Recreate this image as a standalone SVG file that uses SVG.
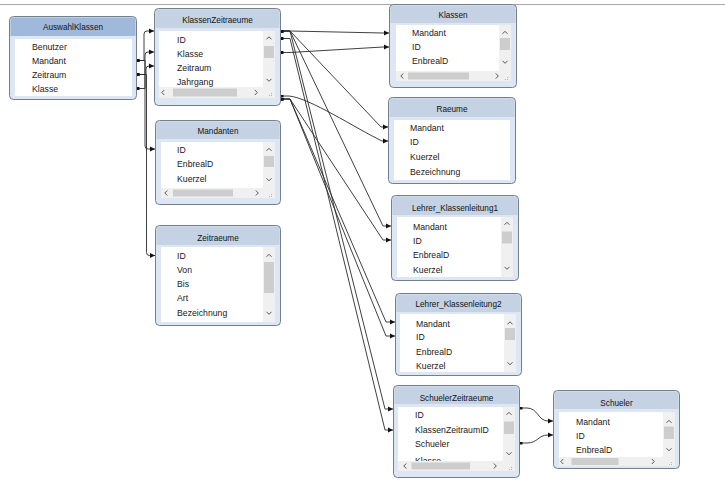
<svg xmlns="http://www.w3.org/2000/svg" xmlns:xlink="http://www.w3.org/1999/xlink" width="725" height="497" viewBox="0 0 725 497">
<style>
.box{fill:#dde7f3;stroke:#727f8d;stroke-width:1}
.hd{fill:#c4d2e3}
.hdsel{fill:#a0b9da}
.body{fill:#ffffff}
.title{font-family:"Liberation Sans",Arial,sans-serif;font-size:8.2px;fill:#111;text-anchor:middle}
.fld{font-family:"Liberation Sans",Arial,sans-serif;font-size:8.7px;fill:#1c1616}
.trk{fill:#f0f0f0}
.thumb{fill:#cdcdcd}
.chev{fill:none;stroke:#555;stroke-width:1}
.grip{fill:#b5b5b5}
.conn path{fill:none;stroke:#2a2a2a;stroke-width:0.9;marker-end:url(#arr);marker-start:url(#dot)}
</style>
<defs>
<marker id="arr" markerUnits="userSpaceOnUse" markerWidth="6" markerHeight="6" refX="5" refY="3" orient="auto"><path d="M0,0.6 L5,3 L0,5.4 Z" fill="#111"/></marker>
<marker id="dot" markerUnits="userSpaceOnUse" markerWidth="4" markerHeight="4" refX="0.5" refY="1.5" orient="auto"><rect x="0" y="0" width="3" height="3" fill="#111"/></marker>
<path id="up" class="chev" d="M-2.5,1.3 L0,-1.2 L2.5,1.3"/>
<path id="dn" class="chev" d="M-2.5,-1.2 L0,1.3 L2.5,-1.2"/>
<path id="lt" class="chev" d="M1.3,-2.5 L-1.2,0 L1.3,2.5"/>
<path id="rt" class="chev" d="M-1.2,-2.5 L1.3,0 L-1.2,2.5"/>
<g id="grip"><rect class="grip" x="2" y="0" width="1" height="1"/><rect class="grip" x="0" y="2" width="1" height="1"/><rect class="grip" x="2" y="2" width="1" height="1"/></g>
<clipPath id="szclip"><rect x="398" y="407" width="105" height="54"/></clipPath>
</defs>
<rect x="0" y="0" width="725" height="497" fill="#ffffff"/>
<line x1="0" y1="4.5" x2="725" y2="4.5" stroke="#a8a8a8" stroke-width="1"/>

<g id="AuswahlKlassen">
<rect class="box" x="9.5" y="16.5" width="127" height="83" rx="4"/>
<path class="hdsel" d="M10.5,36 V20.5 Q10.5,17.5 13.5,17.5 H132.5 Q135.5,17.5 135.5,20.5 V36 Z"/>
<rect class="body" x="15" y="39" width="117" height="57"/>
<text class="title" x="73" y="30">AuswahlKlassen</text>
<text class="fld" x="32" y="50">Benutzer</text>
<text class="fld" x="32" y="64">Mandant</text>
<text class="fld" x="32" y="78">Zeitraum</text>
<text class="fld" x="32" y="92">Klasse</text>
</g>

<g id="KlassenZeitraeume">
<rect class="box" x="154.5" y="8.5" width="126" height="97" rx="4"/>
<path class="hd" d="M155.5,28 V12.5 Q155.5,9.5 158.5,9.5 H276.5 Q279.5,9.5 279.5,12.5 V28 Z"/>
<rect class="body" x="159" y="31" width="116" height="67"/>
<text class="title" x="217.5" y="23">KlassenZeitraeume</text>
<text class="fld" x="177" y="42.5">ID</text>
<text class="fld" x="177" y="56.5">Klasse</text>
<text class="fld" x="177" y="70.5">Zeitraum</text>
<text class="fld" x="177" y="84.5">Jahrgang</text>
<rect class="trk" x="263" y="31" width="12" height="56"/>
<rect class="thumb" x="264" y="46" width="10" height="12"/>
<use xlink:href="#up" x="269" y="38"/>
<use xlink:href="#dn" x="269" y="80"/>
<rect class="trk" x="159" y="87" width="116" height="11"/>
<rect class="thumb" x="173" y="88.5" width="64" height="8"/>
<use xlink:href="#lt" x="163" y="92.5"/>
<use xlink:href="#rt" x="256" y="92.5"/>
<use xlink:href="#grip" x="269" y="93"/>
</g>

<g id="Mandanten">
<rect class="box" x="155.5" y="120.5" width="125" height="84" rx="4"/>
<path class="hd" d="M156.5,139 V124.5 Q156.5,121.5 159.5,121.5 H276.5 Q279.5,121.5 279.5,124.5 V139 Z"/>
<rect class="body" x="161" y="142" width="114" height="56"/>
<text class="title" x="218" y="133.5">Mandanten</text>
<text class="fld" x="177" y="152.5">ID</text>
<text class="fld" x="177" y="167">EnbrealD</text>
<text class="fld" x="177" y="181.5">Kuerzel</text>
<rect class="trk" x="263" y="142" width="12" height="46"/>
<rect class="thumb" x="264" y="156" width="10" height="11"/>
<use xlink:href="#up" x="269" y="149.5"/>
<use xlink:href="#dn" x="269" y="179.5"/>
<rect class="trk" x="161" y="188" width="114" height="10"/>
<rect class="thumb" x="173" y="189.5" width="60" height="7"/>
<use xlink:href="#lt" x="166" y="193"/>
<use xlink:href="#rt" x="257" y="193"/>
<use xlink:href="#grip" x="269" y="194"/>
</g>

<g id="Zeitraeume">
<rect class="box" x="155.5" y="225.5" width="125" height="100" rx="4"/>
<path class="hd" d="M156.5,245 V229.5 Q156.5,226.5 159.5,226.5 H276.5 Q279.5,226.5 279.5,229.5 V245 Z"/>
<rect class="body" x="161" y="247" width="114" height="75"/>
<text class="title" x="218" y="240.5">Zeitraeume</text>
<text class="fld" x="177" y="259">ID</text>
<text class="fld" x="177" y="273">Von</text>
<text class="fld" x="177" y="287">Bis</text>
<text class="fld" x="177" y="301">Art</text>
<text class="fld" x="177" y="315.5">Bezeichnung</text>
<rect class="trk" x="263" y="247" width="12" height="75"/>
<rect class="thumb" x="264" y="262" width="10" height="31"/>
<use xlink:href="#up" x="269" y="255.5"/>
<use xlink:href="#dn" x="269" y="313"/>
</g>

<g id="Klassen">
<rect class="box" x="389.5" y="4.5" width="127" height="83" rx="4"/>
<path class="hd" d="M390.5,23 V8.5 Q390.5,5.5 393.5,5.5 H512.5 Q515.5,5.5 515.5,8.5 V23 Z"/>
<rect class="body" x="396" y="25" width="115" height="56"/>
<text class="title" x="453" y="17.5">Klassen</text>
<text class="fld" x="412" y="36">Mandant</text>
<text class="fld" x="412" y="50">ID</text>
<text class="fld" x="412" y="64">EnbrealD</text>
<rect class="trk" x="499" y="25" width="12" height="46"/>
<rect class="thumb" x="500" y="38" width="10" height="12"/>
<use xlink:href="#up" x="505" y="32.5"/>
<use xlink:href="#dn" x="505" y="62"/>
<rect class="trk" x="396" y="71" width="115" height="10"/>
<rect class="thumb" x="408" y="72.5" width="61" height="7"/>
<use xlink:href="#lt" x="402" y="76"/>
<use xlink:href="#rt" x="497" y="76"/>
<use xlink:href="#grip" x="505" y="77"/>
</g>

<g id="Raeume">
<rect class="box" x="388.5" y="97.5" width="127" height="86" rx="4"/>
<path class="hd" d="M389.5,117 V101.5 Q389.5,98.5 392.5,98.5 H511.5 Q514.5,98.5 514.5,101.5 V117 Z"/>
<rect class="body" x="394" y="120" width="116" height="60"/>
<text class="title" x="452" y="111.5">Raeume</text>
<text class="fld" x="410" y="130.5">Mandant</text>
<text class="fld" x="410" y="145">ID</text>
<text class="fld" x="410" y="159.5">Kuerzel</text>
<text class="fld" x="410" y="174.5">Bezeichnung</text>
</g>

<g id="Lehrer_Klassenleitung1">
<rect class="box" x="391.5" y="195.5" width="127" height="85" rx="4"/>
<path class="hd" d="M392.5,215 V199.5 Q392.5,196.5 395.5,196.5 H514.5 Q517.5,196.5 517.5,199.5 V215 Z"/>
<rect class="body" x="397" y="217" width="116" height="60"/>
<text class="title" x="455" y="211">Lehrer_Klassenleitung1</text>
<text class="fld" x="413" y="229.5">Mandant</text>
<text class="fld" x="413" y="243.5">ID</text>
<text class="fld" x="413" y="258">EnbrealD</text>
<text class="fld" x="413" y="273">Kuerzel</text>
<rect class="trk" x="501" y="217" width="12" height="60"/>
<rect class="thumb" x="502" y="231.5" width="10" height="12"/>
<use xlink:href="#up" x="507" y="223.5"/>
<use xlink:href="#dn" x="507" y="268"/>
</g>

<g id="Lehrer_Klassenleitung2">
<rect class="box" x="395.5" y="293.5" width="126" height="82" rx="4"/>
<path class="hd" d="M396.5,312 V297.5 Q396.5,294.5 399.5,294.5 H517.5 Q520.5,294.5 520.5,297.5 V312 Z"/>
<rect class="body" x="400" y="314" width="116" height="58"/>
<text class="title" x="458.5" y="306.5">Lehrer_Klassenleitung2</text>
<text class="fld" x="416" y="326.5">Mandant</text>
<text class="fld" x="416" y="340">ID</text>
<text class="fld" x="416" y="355">EnbrealD</text>
<text class="fld" x="416" y="368.5">Kuerzel</text>
<rect class="trk" x="504" y="314" width="12" height="58"/>
<rect class="thumb" x="505" y="328" width="10" height="12"/>
<use xlink:href="#up" x="510" y="323"/>
<use xlink:href="#dn" x="510" y="363.5"/>
</g>

<g id="SchuelerZeitraeume">
<rect class="box" x="393.5" y="385.5" width="126" height="92" rx="4"/>
<path class="hd" d="M394.5,404 V389.5 Q394.5,386.5 397.5,386.5 H515.5 Q518.5,386.5 518.5,389.5 V404 Z"/>
<rect class="body" x="398" y="407" width="117" height="64"/>
<text class="title" x="456.5" y="400.5">SchuelerZeitraeume</text>
<g clip-path="url(#szclip)">
<text class="fld" x="415" y="417.5">ID</text>
<text class="fld" x="415" y="432.5">KlassenZeitraumID</text>
<text class="fld" x="415" y="447">Schueler</text>
<text class="fld" x="415" y="463.5">Klasse</text>
</g>
<rect class="trk" x="503" y="407" width="12" height="54"/>
<rect class="thumb" x="504" y="421.5" width="10" height="12.5"/>
<use xlink:href="#up" x="509" y="413.5"/>
<use xlink:href="#dn" x="509" y="453.5"/>
<rect class="trk" x="398" y="461" width="117" height="10"/>
<rect class="thumb" x="411.5" y="462.5" width="58.5" height="7"/>
<use xlink:href="#lt" x="405" y="466"/>
<use xlink:href="#rt" x="495" y="466"/>
<use xlink:href="#grip" x="509" y="467"/>
</g>

<g id="Schueler">
<rect class="box" x="553.5" y="390.5" width="126" height="78" rx="4"/>
<path class="hd" d="M554.5,409 V394.5 Q554.5,391.5 557.5,391.5 H675.5 Q678.5,391.5 678.5,394.5 V409 Z"/>
<rect class="body" x="559" y="412" width="116" height="54"/>
<text class="title" x="616.5" y="405.5">Schueler</text>
<text class="fld" x="576" y="425">Mandant</text>
<text class="fld" x="576" y="439">ID</text>
<text class="fld" x="576" y="453">EnbrealD</text>
<rect class="trk" x="663" y="412" width="12" height="45"/>
<rect class="thumb" x="664" y="426.5" width="10" height="12.5"/>
<use xlink:href="#up" x="669" y="421.5"/>
<use xlink:href="#dn" x="669" y="449.5"/>
<rect class="trk" x="559" y="457" width="116" height="9"/>
<rect class="thumb" x="571.5" y="458" width="47" height="7"/>
<use xlink:href="#lt" x="562" y="461.5"/>
<use xlink:href="#rt" x="653" y="461.5"/>
<use xlink:href="#grip" x="669" y="462"/>
</g>

<g id="connectors" class="conn">
<path d="M137,60.5 H144 V34 Q144,31 147,31 H154"/>
<path d="M137,88.5 H145 V55 Q145,52 148,52 H154"/>
<path d="M137,74.5 H146 V69 Q146,66 149,66 H154"/>
<path d="M137,60.5 H145 V146 Q145,149 148,149 H155"/>
<path d="M137,74.5 H146.5 V252.5 Q146.5,255.5 149.5,255.5 H155"/>
<path d="M281,31 H290 L383,33 H389"/>
<path d="M281,52.5 H290 L383,47 H389"/>
<path d="M281,31 H290 L381,127 H388"/>
<path d="M281,96 H289 C310,98 355,128 382,141 H388"/>
<path d="M281,31 H290 L383,226 H391"/>
<path d="M281,99 H290 L383,240 H391"/>
<path d="M281,99 H290 L386,322 H395"/>
<path d="M281,99 H290 L386,336 H395"/>
<path d="M281,31 H290 L385,409 H393"/>
<path d="M281,38.5 H290 L385,430 H393"/>
<path d="M520,408 H527 C538,408 538,421 548,421 H553"/>
<path d="M520,443 H527 C538,443 538,435 548,435 H553"/>
</g>
</svg>
